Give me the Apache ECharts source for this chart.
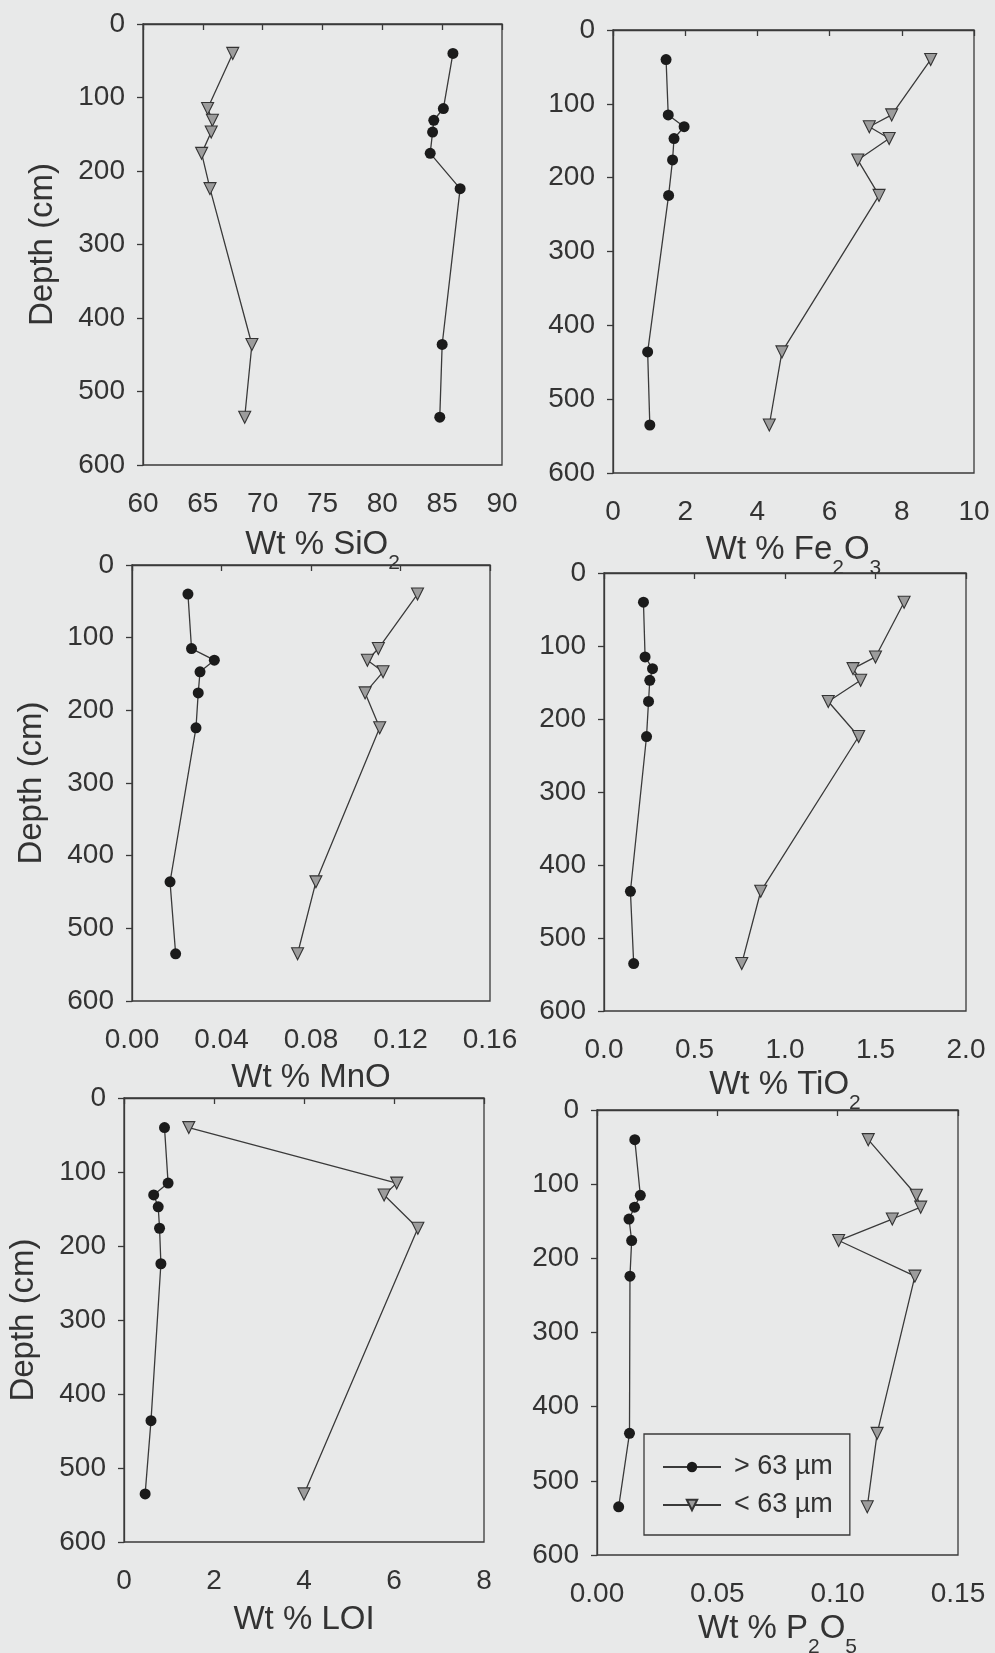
<!DOCTYPE html>
<html>
<head>
<meta charset="utf-8">
<script src="https://cdn.jsdelivr.net/npm/echarts@6/dist/echarts.min.js"></script>
<style>
html,body{margin:0;padding:0;background:#e8e9e9;}
#c{width:995px;height:1653px;}
</style>
</head>
<body>
<div id="c"></div>
<script>
// ---- data ----
const depths = [40, 115, 131, 147, 176, 224, 436, 535];
const seriesNames = ['> 63 µm', '< 63 µm'];

const sio2Coarse = [85.9, 85.1, 84.3, 84.2, 84.0, 86.5, 85.0, 84.8];
const sio2Fine   = [67.5, 65.4, 65.8, 65.7, 64.9, 65.6, 69.1, 68.5];

const fe2o3Coarse = [1.47, 1.53, 1.97, 1.69, 1.65, 1.54, 0.96, 1.02];
const fe2o3Fine   = [8.80, 7.72, 7.10, 7.65, 6.78, 7.37, 4.68, 4.33];

const mnoCoarse = [0.0250, 0.0266, 0.0368, 0.0304, 0.0296, 0.0286, 0.0170, 0.0195];
const mnoFine   = [0.1276, 0.1101, 0.1052, 0.1122, 0.1042, 0.1107, 0.0822, 0.0740];

const tio2Coarse = [0.218, 0.227, 0.268, 0.253, 0.246, 0.235, 0.146, 0.164];
const tio2Fine   = [1.658, 1.500, 1.376, 1.418, 1.239, 1.407, 0.866, 0.761];

const loiCoarse = [0.90, 0.98, 0.66, 0.76, 0.79, 0.82, 0.60, 0.47];
const loiFine   = [1.44, 6.06, 5.78, null, 6.53, null, null, 4.00];

const p2o5Coarse = [0.0157, 0.0180, 0.0156, 0.0133, 0.0144, 0.0137, 0.0135, 0.0090];
const p2o5Fine   = [0.1127, 0.1327, 0.1345, 0.1227, 0.1004, 0.1321, 0.1164, 0.1123];

// axis titles: alternating [main text, subscript, main text, subscript]
const titleSiO2  = ['Wt % SiO', '2'];
const titleFe2O3 = ['Wt % Fe', '2', 'O', '3'];
const titleMnO   = ['Wt % MnO'];
const titleTiO2  = ['Wt % TiO', '2'];
const titleLOI   = ['Wt % LOI'];
const titleP2O5  = ['Wt % P', '2', 'O', '5'];
const depthTitle = 'Depth (cm)';

// ---- layout / styling ----
const FONT = 'Liberation Sans, Arial, sans-serif';
const TXT = '#333333';
const INK = '#3a3a3a';
const BG = '#e8e9e9';

const panels = [
  {t: titleSiO2,  c: sio2Coarse,  f: sio2Fine,  min: 60, max: 90,   iv: 5,    dec: 0, g: {left: 143, top: 24,   width: 359, height: 441}, yt: true,  ng: 63},
  {t: titleFe2O3, c: fe2o3Coarse, f: fe2o3Fine, min: 0,  max: 10,   iv: 2,    dec: 0, g: {left: 613, top: 30,   width: 361, height: 443}, yt: false, ng: 60},
  {t: titleMnO,   c: mnoCoarse,   f: mnoFine,   min: 0,  max: 0.16, iv: 0.04, dec: 2, g: {left: 132, top: 565,  width: 358, height: 436}, yt: true,  ng: 60},
  {t: titleTiO2,  c: tio2Coarse,  f: tio2Fine,  min: 0,  max: 2,    iv: 0.5,  dec: 1, g: {left: 604, top: 573,  width: 362, height: 438}, yt: false, ng: 57},
  {t: titleLOI,   c: loiCoarse,   f: loiFine,   min: 0,  max: 8,    iv: 2,    dec: 0, g: {left: 124, top: 1098, width: 360, height: 444}, yt: true,  ng: 61},
  {t: titleP2O5,  c: p2o5Coarse,  f: p2o5Fine,  min: 0,  max: 0.15, iv: 0.05, dec: 2, g: {left: 597, top: 1110, width: 361, height: 445}, yt: false, ng: 57}
];

function richName(parts) {
  let s = '';
  parts.forEach((p, i) => { s += (i % 2 === 0 ? '{m|' : '{s|') + p + '}'; });
  return s;
}
function pairs(vals) {
  return depths.map((d, i) => vals[i] == null ? null : [vals[i], d]).filter(Boolean);
}

const grids = [], xAxes = [], yAxes = [], series = [];
panels.forEach((p, k) => {
  grids.push(Object.assign({show: true, borderColor: INK, borderWidth: 1.3, backgroundColor: 'transparent', containLabel: false, outerBoundsMode: 'none'}, p.g));
  xAxes.push({
    type: 'value', gridIndex: k, min: p.min, max: p.max, interval: p.iv,
    axisLine: {show: true, lineStyle: {color: INK, width: 1.3}},
    axisTick: {show: true, inside: false, length: 6, lineStyle: {color: INK, width: 1.3}},
    splitLine: {show: false},
    axisLabel: {fontFamily: FONT, fontSize: 28, color: TXT, margin: 25,
      formatter: v => Number(v).toFixed(p.dec)},
    name: richName(p.t), nameLocation: 'middle', nameGap: p.ng,
    nameTextStyle: {fontFamily: FONT, color: TXT,
      rich: {
        m: {fontFamily: FONT, fontSize: 33, color: TXT, verticalAlign: 'top'},
        s: {fontFamily: FONT, fontSize: 21, color: TXT, verticalAlign: 'top', padding: [25, 0, 0, 0]}
      }}
  });
  yAxes.push({
    type: 'value', gridIndex: k, min: 0, max: 600, interval: 100, inverse: true,
    axisLine: {show: true, lineStyle: {color: INK, width: 1.3}},
    axisTick: {show: true, inside: false, length: 6, lineStyle: {color: INK, width: 1.3}},
    splitLine: {show: false},
    axisLabel: {fontFamily: FONT, fontSize: 28, color: TXT, margin: 18},
    name: p.yt ? depthTitle : '', nameLocation: 'middle', nameGap: 84, nameRotate: 90,
    nameTextStyle: {fontFamily: FONT, fontSize: 33, color: TXT}
  });
  series.push({
    name: seriesNames[0], type: 'line', xAxisIndex: k, yAxisIndex: k,
    data: pairs(p.c), symbol: 'circle', symbolSize: 11,
    itemStyle: {color: '#1b1b1b'}, lineStyle: {color: INK, width: 1.3},
    z: 3
  });
  series.push({
    name: seriesNames[1], type: 'line', xAxisIndex: k, yAxisIndex: k,
    data: pairs(p.f), symbol: 'triangle', symbolSize: 12, symbolRotate: 180,
    itemStyle: {color: '#9c9c9c', borderColor: '#333', borderWidth: 1.1},
    lineStyle: {color: INK, width: 1.3},
    z: 3
  });
});

const chart = echarts.init(document.getElementById('c'), null, {renderer: 'canvas'});
chart.setOption({
  backgroundColor: BG,
  animation: false,
  textStyle: {fontFamily: FONT},
  grid: grids,
  xAxis: xAxes,
  yAxis: yAxes,
  legend: {
    data: seriesNames, orient: 'vertical', left: 644, top: 1434,
    selectedMode: false,
    itemWidth: 58, itemHeight: 13, itemGap: 10,
    padding: [19, 17, 16, 18],
    borderColor: INK, borderWidth: 1.3, backgroundColor: BG,
    textStyle: {fontFamily: FONT, fontSize: 27, color: TXT, lineHeight: 28, padding: [0, 0, 0, 8]}
  },
  series: series
});
</script>
</body>
</html>
